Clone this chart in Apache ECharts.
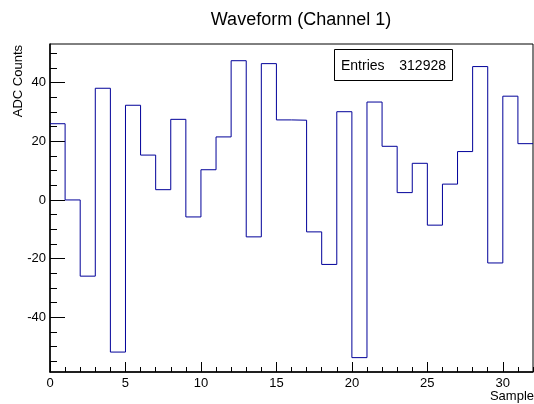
<!DOCTYPE html>
<html>
<head>
<meta charset="utf-8">
<script src="https://cdn.jsdelivr.net/npm/echarts@6/dist/echarts.min.js"></script>
<style>
html,body{margin:0;padding:0;background:#fff;}
#chart{width:534px;height:404px;}
</style>
</head>
<body>
<div id="chart"></div>
<script>
const titleText = 'Waveform (Channel 1)';
const xTitle = 'Sample';
const yTitle = 'ADC Counts';
const entriesLabel = 'Entries';
const entriesValue = '312928';
const binCount = 32;
const adcValues = [26.0, 0.0, -26.0, 38.1, -51.9, 32.3, 15.3, 3.5, 27.5, -5.8, 10.3, 21.5, 47.5, -12.6, 46.5, 27.3,
                   27.2, -10.9, -22.0, 30.1, -53.8, 33.4, 18.3, 2.5, 12.5, -8.6, 5.4, 16.5, 45.5, -21.5, 35.4, 19.2];
const xMajorTicks = [0, 5, 10, 15, 20, 25, 30];
const xMinorTicks = Array.from({length: binCount + 1}, (_, i) => i);
const yMajorTicks = [-40, -20, 0, 20, 40];
const yMinorTicks = [-55, -50, -45, -35, -30, -25, -15, -10, -5, 5, 10, 15, 25, 30, 35, 45, 50];
const yMin = -58.7, yMax = 53.2;

const stepData = adcValues.map((v, i) => [i, v]);
stepData.push([binCount, adcValues[adcValues.length - 1]]);

const FONT = 'Liberation Sans, Arial, Helvetica, sans-serif';
const chart = echarts.init(document.getElementById('chart'), null, {renderer: 'canvas'});
chart.setOption({
  animation: false,
  backgroundColor: '#fff',
  title: {
    text: titleText, left: 296, top: 6, textAlign: 'center',
    textStyle: {fontFamily: FONT, fontSize: 18, fontWeight: 'normal', color: '#000'}
  },
  grid: {left: 50, right: 1, top: 44, bottom: 32, show: true, borderColor: '#000', borderWidth: 1, containLabel: false},
  xAxis: [
    {type: 'value', min: 0, max: binCount, interval: 5, position: 'bottom',
     axisLine: {show: true, onZero: false, lineStyle: {color: '#000', width: 1.5}},
     axisTick: {show: true, inside: true, length: 10, lineStyle: {color: '#000'}, customValues: xMajorTicks},
     axisLabel: {show: true, margin: 5, fontFamily: FONT, fontSize: 13, color: '#000', customValues: xMajorTicks},
     splitLine: {show: false}},
    {type: 'value', min: 0, max: binCount, interval: 1, position: 'bottom',
     axisLine: {show: false, onZero: false},
     axisTick: {show: true, inside: true, length: 5, lineStyle: {color: '#000'}, customValues: xMinorTicks},
     axisLabel: {show: false}, splitLine: {show: false}}
  ],
  yAxis: [
    {type: 'value', min: yMin, max: yMax, position: 'left',
     axisLine: {show: true, onZero: false, lineStyle: {color: '#000', width: 1.5}},
     axisTick: {show: true, inside: true, length: 15, lineStyle: {color: '#000'}, customValues: yMajorTicks},
     axisLabel: {show: true, margin: 4, fontFamily: FONT, fontSize: 13, color: '#000', customValues: yMajorTicks},
     splitLine: {show: false}},
    {type: 'value', min: yMin, max: yMax, position: 'left',
     axisLine: {show: false, onZero: false},
     axisTick: {show: true, inside: true, length: 7, lineStyle: {color: '#000'}, customValues: yMinorTicks},
     axisLabel: {show: false}, splitLine: {show: false}}
  ],
  series: [{
    type: 'line', step: 'end', xAxisIndex: 0, yAxisIndex: 0,
    data: stepData, symbol: 'none',
    lineStyle: {color: '#000099', width: 1}
  }],
  graphic: [
    {type: 'rect', shape: {x: 334.5, y: 49.5, width: 118, height: 31}, style: {fill: '#fff', stroke: '#000', lineWidth: 1}, z: 100},
    {type: 'text', x: 341, y: 66, style: {text: entriesLabel, font: '14px ' + FONT, fill: '#000', align: 'left', verticalAlign: 'middle'}, z: 101},
    {type: 'text', x: 446, y: 66, style: {text: entriesValue, font: '14px ' + FONT, fill: '#000', align: 'right', verticalAlign: 'middle'}, z: 101},
    {type: 'text', x: 18, y: 45, rotation: Math.PI / 2, style: {text: yTitle, font: '13px ' + FONT, fill: '#000', align: 'right', verticalAlign: 'middle'}, z: 101},
    {type: 'text', x: 534, y: 396, style: {text: xTitle, font: '13px ' + FONT, fill: '#000', align: 'right', verticalAlign: 'middle'}, z: 101}
  ]
});
</script>
</body>
</html>
